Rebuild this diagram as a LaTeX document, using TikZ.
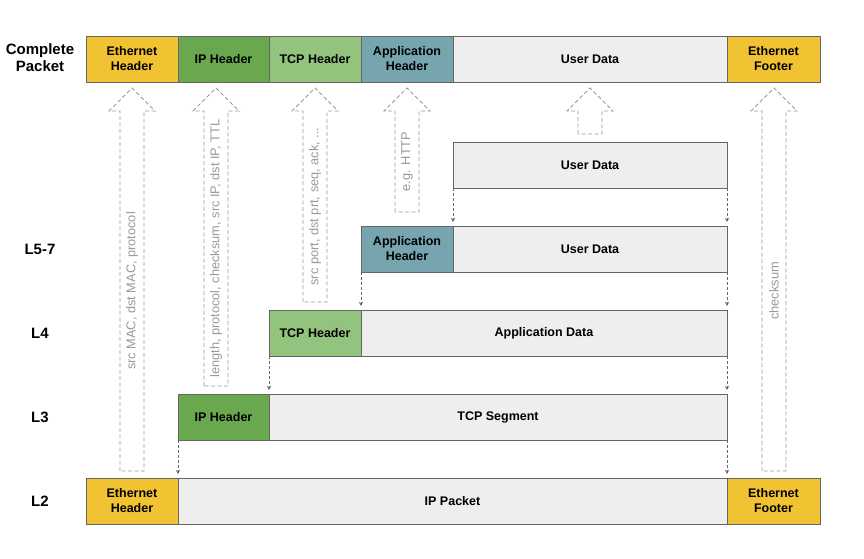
\documentclass[tikz,border=0pt]{standalone}
\usepackage{fontspec}
\setsansfont{Liberation Sans}
\renewcommand{\familydefault}{\sfdefault}
\usetikzlibrary{arrows.meta, positioning}
\definecolor{ethY}{HTML}{F1C232}
\definecolor{ipG}{HTML}{6AA84F}
\definecolor{tcpG}{HTML}{93C47D}
\definecolor{appT}{HTML}{76A5AF}
\definecolor{dataG}{HTML}{EEEEEE}
\definecolor{borderG}{HTML}{666666}
\definecolor{noteG}{HTML}{999999}

\begin{document}
\begin{tikzpicture}[x=1pt, y=-1pt,
  field/.style={draw=borderG, line width=0.9pt, inner sep=0pt, outer sep=0pt,
    minimum height=46pt, align=center, font=\bfseries\fontsize{12.5}{15}\selectfont},
  layer/.style={align=center, font=\bfseries\fontsize{15}{17}\selectfont},
  drop/.style={draw=borderG, line width=0.7pt, dash pattern=on 3pt off 2pt,
    -{Stealth[length=4pt, width=4pt]}, shorten >=4pt},
  hollow/.style={draw=noteG, line width=0.9pt, dash pattern=on 4pt off 2.5pt},
  note/.style={text=noteG, rotate=90, font=\fontsize{12.8}{15}\selectfont}]
  \def\headY{111}
  \def\tipY{88}
  \def\shaftW{12}
  \def\headW{23}

  \useasboundingbox (0,0) rectangle (864,559);

  % ------------------------
  % layer labels
  % ------------------------

  \node[layer] (lblCP) at (40, 58) {Complete\\Packet};
  \node[layer] (lblL5) at (40, 249) {L5-7};
  \node[layer] (lblL4) at (40, 333) {L4};
  \node[layer] (lblL3) at (40, 417) {L3};
  \node[layer] (lblL2) at (40, 501) {L2};

  % ------------------------
  % complete packet
  % ------------------------

  \node[field, fill=ethY, minimum width=92pt, anchor=north west] (cpEth) at (86, 36) {Ethernet\\Header};
  \node[field, fill=ipG, minimum width=91pt, right=0pt of cpEth] (cpIP) {IP Header};
  \node[field, fill=tcpG, minimum width=92pt, right=0pt of cpIP] (cpTCP) {TCP Header};
  \node[field, fill=appT, minimum width=92pt, right=0pt of cpTCP] (cpApp) {Application\\Header};
  \node[field, fill=dataG, minimum width=274pt, right=0pt of cpApp] (cpData) {User Data};
  \node[field, fill=ethY, minimum width=93pt, right=0pt of cpData] (cpFoot) {Ethernet\\Footer};

  % ------------------------
  % encapsulation rows
  % ------------------------

  \node[field, fill=dataG, minimum width=274pt, anchor=north west] (udTop) at (453, 142) {User Data};

  \node[field, fill=appT, minimum width=92pt, anchor=north west] (app5) at (361, 226) {Application\\Header};
  \node[field, fill=dataG, minimum width=274pt, right=0pt of app5] (ud5) {User Data};

  \node[field, fill=tcpG, minimum width=92pt, anchor=north west] (tcp4) at (269, 310) {TCP Header};
  \node[field, fill=dataG, minimum width=366pt, right=0pt of tcp4] (ad4) {Application Data};

  \node[field, fill=ipG, minimum width=91pt, anchor=north west] (ip3) at (178, 394) {IP Header};
  \node[field, fill=dataG, minimum width=458pt, right=0pt of ip3] (seg3) {TCP Segment};

  \node[field, fill=ethY, minimum width=92pt, anchor=north west] (eth2) at (86, 478) {Ethernet\\Header};
  \node[field, fill=dataG, minimum width=549pt, right=0pt of eth2] (pkt2) {IP Packet};
  \node[field, fill=ethY, minimum width=93pt, right=0pt of pkt2] (foot2) {Ethernet\\Footer};

  % dashed drops between rows
  \draw[drop] (udTop.south west) -- (ud5.north west);
  \draw[drop] (udTop.south east) -- (ud5.north east);
  \draw[drop] (app5.south west) -- (ad4.north west);
  \draw[drop] (ud5.south east) -- (ad4.north east);
  \draw[drop] (tcp4.south west) -- (seg3.north west);
  \draw[drop] (ad4.south east) -- (seg3.north east);
  \draw[drop] (ip3.south west) -- (pkt2.north west);
  \draw[drop] (seg3.south east) -- (pkt2.north east);

  % ------------------------
  % hollow arrows up to the complete packet
  % ------------------------

  \foreach \x/\b/\t [count=\i] in {132/471/{src MAC, dst MAC, protocol},
      216/386/{length, protocol, checksum, src IP, dst IP, TTL},
      315/302/{src port, dst prt, seq, ack, ...},
      407/212/{e.g. HTTP},
      590/134/{},
      774/471/{checksum}} {
    \draw[hollow] (\x-\shaftW, \b) -- (\x-\shaftW, \headY) -- (\x-\headW, \headY) -- (\x, \tipY)
      -- (\x+\headW, \headY) -- (\x+\shaftW, \headY) -- (\x+\shaftW, \b) -- cycle;
    \node[note] (note\i) at (\x, {(\b+\headY)/2}) {\t};
  }
\end{tikzpicture}
\end{document}
